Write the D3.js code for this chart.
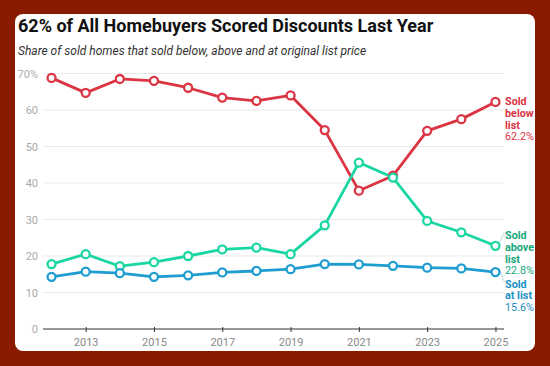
<!DOCTYPE html>
<html>
<head>
<meta charset="utf-8">
<script src="https://cdn.jsdelivr.net/npm/d3@7"></script>
<style>
  html, body { margin: 0; padding: 0; background: #8a1b00; }
  svg { display: block; font-family: Roboto, sans-serif; }
</style>
</head>
<body>
<script>
'use strict';

const years = [2012, 2013, 2014, 2015, 2016, 2017, 2018, 2019, 2020, 2021, 2022, 2023, 2024, 2025];
const soldBelow = [68.8, 64.7, 68.5, 68.0, 66.1, 63.4, 62.5, 64.0, 54.5, 37.9, 42.0, 54.3, 57.5, 62.2];
const soldAbove = [17.8, 20.5, 17.2, 18.3, 20.0, 21.8, 22.3, 20.5, 28.4, 45.6, 41.5, 29.6, 26.5, 22.8];
const soldAt = [14.3, 15.7, 15.3, 14.3, 14.7, 15.5, 15.9, 16.4, 17.8, 17.7, 17.3, 16.8, 16.6, 15.6];
const yTicks = [0, 10, 20, 30, 40, 50, 60, 70];
const xTicks = [2013, 2015, 2017, 2019, 2021, 2023, 2025];

const series = [
  {name: "below", values: soldBelow, color: "#db3443", text: "#db3443", label: ["Sold", "below", "list"], labelY: 105},
  {name: "above", values: soldAbove, color: "#1ad6a2", text: "#17a87c", label: ["Sold", "above", "list"], labelY: 239},
  {name: "at", values: soldAt, color: "#1f9dd0", text: "#1b8fc2", label: ["Sold", "at list"], labelY: 287.5}
];

let svg = d3.select("body").append("svg")
  .attr("width", 550)
  .attr("height", 366);

// white card
svg.append("rect")
  .attr("x", 15).attr("y", 14)
  .attr("width", 520).attr("height", 337)
  .attr("rx", 8)
  .attr("fill", "#fff");

svg.append("text")
  .attr("x", 18).attr("y", 32)
  .style("font-size", "18px")
  .style("font-weight", "700")
  .attr("fill", "#111")
  .text("62% of All Homebuyers Scored Discounts Last Year");

svg.append("text")
  .attr("x", 18).attr("y", 55)
  .style("font-size", "12px")
  .style("font-style", "italic")
  .attr("fill", "#333")
  .text("Share of sold homes that sold below, above and at original list price");

let x = d3.scaleLinear().domain([2011.75, 2025.25]).range([43, 504]);
let y = d3.scaleLinear().domain([0, 70]).range([329, 73.5]);

// gridlines
svg.append("g")
  .selectAll("line")
  .data(yTicks.filter(d => d > 0))
  .enter().append("line")
  .attr("x1", x.range()[0]).attr("x2", x.range()[1])
  .attr("y1", d => y(d)).attr("y2", d => y(d))
  .attr("stroke", "#e9e9e9")
  .attr("stroke-width", 1);

// y axis labels
let yAxis = d3.axisLeft(y)
  .tickValues(yTicks)
  .tickSize(0)
  .tickPadding(5)
  .tickFormat(d => d === 70 ? "70%" : d);
let gy = svg.append("g").attr("transform", "translate(43,0)").call(yAxis);
gy.select(".domain").remove();
gy.selectAll("text")
  .style("font-family", "Roboto, sans-serif")
  .style("font-size", "11px")
  .attr("fill", "#aaa");

// x axis
let xAxis = d3.axisBottom(x)
  .tickValues(xTicks)
  .tickSize(5)
  .tickPadding(4)
  .tickFormat(d3.format("d"));
let gx = svg.append("g").attr("transform", "translate(0,329)").call(xAxis);
gx.select(".domain").attr("stroke", "#333").attr("d", "M43,0H504");
gx.selectAll(".tick line").attr("stroke", "#333").attr("y1", -2).attr("y2", 3);
gx.selectAll("text")
  .style("font-family", "Roboto, sans-serif")
  .style("font-size", "11px")
  .attr("fill", "#888");

let line = d3.line()
  .x((d, i) => x(years[i]))
  .y(d => y(d));

// draw lines, then points
series.forEach(s => {
  svg.append("path")
    .datum(s.values)
    .attr("fill", "none")
    .attr("stroke", s.color)
    .attr("stroke-width", 2.8)
    .attr("stroke-linejoin", "round")
    .attr("d", line);
});

series.forEach(s => {
  svg.append("g")
    .selectAll("circle")
    .data(s.values)
    .enter().append("circle")
    .attr("cx", (d, i) => x(years[i]))
    .attr("cy", d => y(d))
    .attr("r", 4)
    .attr("fill", "#fff")
    .attr("stroke", s.color)
    .attr("stroke-width", 2.3);
});

// end labels
series.forEach(s => {
  let last = s.values[s.values.length - 1];
  let px = x(years[years.length - 1]);
  let py = y(last);
  let lx = 505;
  let t = svg.append("text")
    .attr("x", lx)
    .attr("y", s.labelY)
    .style("font-size", "10.8px")
    .attr("fill", s.text);
  s.label.forEach((l, i) => {
    t.append("tspan")
      .attr("x", lx)
      .attr("dy", i === 0 ? 0 : 11.8)
      .style("font-weight", "700")
      .text(l);
  });
  t.append("tspan")
    .attr("x", lx)
    .attr("dy", 11.8)
    .text(last.toFixed(1) + "%");

  // dotted leader line where label is offset from point
  if (Math.abs(py - (s.labelY - 4)) > 6) {
    svg.append("line")
      .attr("x1", px + 4).attr("y1", py - 3)
      .attr("x2", lx - 1).attr("y2", s.labelY - 6)
      .attr("stroke", s.text)
      .attr("stroke-width", 0.8)
      .attr("stroke-dasharray", "1,1.5");
  }
});
</script>
</body>
</html>
